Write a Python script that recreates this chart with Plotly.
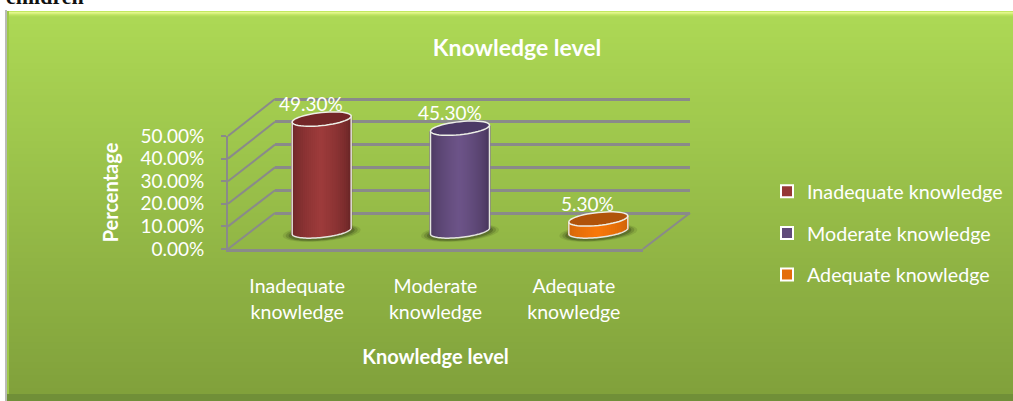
#!/usr/bin/env python3
# -*- coding: utf-8 -*-
"""
Knowledge level chart - fake 3D cylinders built on three overlapped cartesian planes
(back wall, front axis, middle plane for the cylinders)
"""

import math
import plotly.graph_objects as go

W, H = 1013, 401

# data
categories = ["Inadequate knowledge", "Moderate knowledge", "Adequate knowledge"]
tick_labels = ["Inadequate<br>knowledge", "Moderate<br>knowledge", "Adequate<br>knowledge"]
values = [0.493, 0.453, 0.053]
y_ticks = [0, 0.1, 0.2, 0.3, 0.4, 0.5]

# colours: legend swatch, cylinder edge, cylinder centre, top cap
swatch_colors = ["#953735", "#604a7b", "#e46c0a"]
edge_colors = ["#642324", "#453358", "#cc6208"]
centre_colors = ["#9e3b3b", "#6d5489", "#f8780a"]
cap_colors = ["#732728", "#4c3a66", "#b0530a"]

GRID = "#8a8a8a"
FONT = "Lato"


def px_x(p):
    return p / W


def px_y(p):
    return 1 - p / H


def mix(c1, c2, t):
    a = [int(c1[i:i + 2], 16) for i in (1, 3, 5)]
    b = [int(c2[i:i + 2], 16) for i in (1, 3, 5)]
    return "rgb(%d,%d,%d)" % tuple(round(a[i] + (b[i] - a[i]) * t) for i in range(3))


def paper_rect(x0, y0, x1, y1, color, layer="below"):
    return dict(type="rect", xref="paper", yref="paper", x0=px_x(x0), x1=px_x(x1),
                y0=px_y(y0), y1=px_y(y1), fillcolor=color, line_width=0, layer=layer)


shapes = []

# panel: vertical gradient, then the bevel round it
shapes.append(paper_rect(5, 10, 7, H, "#b9bbb5"))
steps = 60
for s in range(steps):
    y0 = 11 + (H - 11) * s / steps
    y1 = 11 + (H - 11) * (s + 1) / steps + 1
    shapes.append(paper_rect(7, y0, W, y1, mix("#add955", "#80a03b", s / (steps - 1))))
bevel_top = [("#c2e85f", 11), ("#e2f68c", 12), ("#d6f07c", 13), ("#c4e767", 14), ("#b8e05c", 15), ("#b0da57", 16)]
for col, y in bevel_top:
    shapes.append(paper_rect(9, y, W, y + 1, col))
shapes.append(paper_rect(7, 11, 9, H, "#9fc94a"))
shapes.append(paper_rect(7, 394, W, H, "#708f38"))

# layout of the three planes, in pixels
FRONT_X = (228, 643)
FRONT_Y = (136, 249)
BACK_X = (275, 690)
BACK_Y = (99, 213)
BACK_PAD = 0.02  # keeps the top and bottom grid lines off the plot edge
MID_X = (252.5, 667.5)
MID_ZERO = 231
MID_SCALE = 227  # px per 1.0 of value
MID_RANGE = (-0.1, 0.6)

back_scale = (BACK_Y[1] - BACK_Y[0]) / y_ticks[-1]

# floor and side lines between front and back plane
for v in y_ticks:
    yf = FRONT_Y[1] - (FRONT_Y[1] - FRONT_Y[0]) * v / y_ticks[-1]
    yb = BACK_Y[1] - back_scale * v
    shapes.append(dict(type="line", xref="paper", yref="paper", x0=px_x(FRONT_X[0]), x1=px_x(BACK_X[0]),
                       y0=px_y(yf), y1=px_y(yb), line=dict(color=GRID, width=2), layer="below"))
shapes.append(dict(type="line", xref="paper", yref="paper", x0=px_x(FRONT_X[1]), x1=px_x(BACK_X[1]),
                   y0=px_y(FRONT_Y[1]), y1=px_y(BACK_Y[1]), line=dict(color=GRID, width=2), layer="below"))

# cylinder geometry in axis units
HALF_W = 29.5 / ((MID_X[1] - MID_X[0]) / 3)
HALF_H = 6.5 / MID_SCALE
TILT = 3.0 / MID_SCALE
N_STRIPS = 30
N_ARC = 48


def ellipse_pts(cx, cy, a, b, t0=0.0, t1=1.0):
    pts = []
    for k in range(N_ARC + 1):
        t = 2 * math.pi * (t0 + (t1 - t0) * k / N_ARC)
        u = math.cos(t)
        pts.append((cx + a * u, cy + b * math.sin(t) + TILT * u))
    return pts


def to_path(pts, close=True):
    s = "M" + " L".join("%.5f,%.5f" % p for p in pts)
    return s + (" Z" if close else "")


fig = go.Figure()

# back wall, only the grid
fig.add_trace(go.Scatter(x=[0], y=[0], xaxis="x", yaxis="y", mode="markers", marker_opacity=0,
                         showlegend=False, hoverinfo="skip"))
# front plane, carries the tick labels
fig.add_trace(go.Scatter(x=[0], y=[0], xaxis="x2", yaxis="y2", mode="markers", marker_opacity=0,
                         showlegend=False, hoverinfo="skip"))

annotations = []
for i, cat in enumerate(categories):
    v = values[i]

    # base trace, holds the true value and the legend swatch
    fig.add_trace(go.Bar(x=[i], y=[v], width=0.08, name=cat, legendgroup=cat, xaxis="x3", yaxis="y3",
                         marker=dict(color=swatch_colors[i], line=dict(color="#ffffff", width=2)),
                         cliponaxis=False))

    # gradient body as narrow strips
    xs, bases, heights, cols = [], [], [], []
    for k in range(N_STRIPS):
        u = -1 + 2 * (k + 0.5) / N_STRIPS
        low = -HALF_H * (1 - u * u) ** 0.5 + TILT * u
        top = v + TILT * u
        xs.append(i + u * HALF_W)
        bases.append(low)
        heights.append(top - low)
        cols.append(mix(edge_colors[i], centre_colors[i], (1 - abs(u)) ** 0.55))
    fig.add_trace(go.Bar(x=xs, y=heights, base=bases, width=HALF_W * 2 / N_STRIPS * 2.0,
                         marker=dict(color=cols, line_width=0), legendgroup=cat, showlegend=False,
                         xaxis="x3", yaxis="y3", cliponaxis=False, hoverinfo="skip"))

    # soft shadow on the floor
    for grow, op in [(1.32, 0.12), (1.22, 0.2), (1.12, 0.3)]:
        shapes.append(dict(type="path", xref="x3", yref="y3", layer="below",
                           path=to_path(ellipse_pts(i, -0.008, HALF_W * grow, HALF_H * grow)),
                           fillcolor="rgba(40,50,20,%.2f)" % op, line_width=0))

    # outline of the sides and bottom, then the top cap
    bottom = ellipse_pts(i, 0, HALF_W, HALF_H, 0.5, 1.0)
    outline = [(i - HALF_W, v - TILT)] + bottom + [(i + HALF_W, v + TILT)]
    shapes.append(dict(type="path", xref="x3", yref="y3", path=to_path(outline, False),
                       line=dict(color="#e4e6de", width=1.5), layer="above"))
    shapes.append(dict(type="path", xref="x3", yref="y3", path=to_path(ellipse_pts(i, v, HALF_W, HALF_H)),
                       fillcolor=cap_colors[i], line=dict(color="#eef0e8", width=1.5), layer="above"))

    # data label
    annotations.append(dict(xref="x3", yref="y3", x=i, y=v, xshift=-10.5, yshift=15.5,
                            text="%.2f%%" % (v * 100), showarrow=False,
                            font=dict(family=FONT, size=19, color="white")))

# clipped line of body text above the chart
annotations.append(dict(xref="paper", yref="paper", x=px_x(4), y=px_y(11), xanchor="left", yanchor="bottom",
                        text="<b>children</b>", showarrow=False,
                        font=dict(family="Liberation Serif", size=22, color="#111111")))

fig.update_layout(
    width=W, height=H,
    margin=dict(l=0, r=0, t=0, b=0, autoexpand=False),
    paper_bgcolor="white", plot_bgcolor="rgba(0,0,0,0)",
    barmode="overlay",
    shapes=shapes, annotations=annotations,
    font=dict(family=FONT, color="white"),
    title=dict(text="<b>Knowledge level</b>", x=517 / W, xanchor="center", y=px_y(48), yanchor="middle",
               font=dict(family=FONT, size=23, color="white")),
    legend=dict(x=px_x(767), xanchor="left", y=px_y(172), yanchor="top", tracegroupgap=13,
                bgcolor="rgba(0,0,0,0)", font=dict(family=FONT, size=19.7, color="white")),
    # back wall
    xaxis=dict(domain=[px_x(BACK_X[0]), px_x(BACK_X[1])], range=[-0.5, 2.5], visible=False, fixedrange=True),
    yaxis=dict(domain=[px_y(BACK_Y[1] + BACK_PAD * back_scale), px_y(BACK_Y[0] - BACK_PAD * back_scale)],
               range=[-BACK_PAD, y_ticks[-1] + BACK_PAD], tickvals=y_ticks, showticklabels=False,
               showgrid=True, gridcolor=GRID, gridwidth=2.5, zeroline=False,
               showline=False, ticks="", fixedrange=True),
    # front plane
    xaxis2=dict(domain=[px_x(FRONT_X[0]), px_x(FRONT_X[1])], range=[-0.5, 2.5], anchor="y2",
                tickvals=[0, 1, 2], ticktext=tick_labels, ticks="", showgrid=False, zeroline=False,
                showline=True, linecolor=GRID, linewidth=2.5, ticklabelstandoff=18,
                tickfont=dict(family=FONT, size=19.5, color="white"),
                title=dict(text="<b>Knowledge level</b>", standoff=29, font=dict(family=FONT, size=20, color="white")),
                fixedrange=True),
    yaxis2=dict(domain=[px_y(FRONT_Y[1]), px_y(FRONT_Y[0])], range=[0, 0.5], anchor="x2",
                tickvals=y_ticks, tickformat=".2%", ticks="outside", ticklen=5, tickwidth=2, tickcolor=GRID,
                showgrid=False, zeroline=False, showline=True, linecolor=GRID, linewidth=2,
                ticklabelstandoff=13, tickfont=dict(family=FONT, size=19, color="white"),
                title=dict(text="<b>Percentage</b>", standoff=16, font=dict(family=FONT, size=20, color="white")),
                fixedrange=True),
    # middle plane, where the cylinders stand
    xaxis3=dict(domain=[px_x(MID_X[0]), px_x(MID_X[1])], range=[-0.5, 2.5], anchor="y3", visible=False,
                fixedrange=True),
    yaxis3=dict(domain=[px_y(MID_ZERO - MID_RANGE[0] * MID_SCALE), px_y(MID_ZERO - MID_RANGE[1] * MID_SCALE)],
                range=list(MID_RANGE), anchor="x3", visible=False, fixedrange=True),
)

# the page has a default body margin, drop it so the figure fills the window
fig.write_html("out.html", config={"displayModeBar": False}, post_script="document.body.style.margin='0';")
